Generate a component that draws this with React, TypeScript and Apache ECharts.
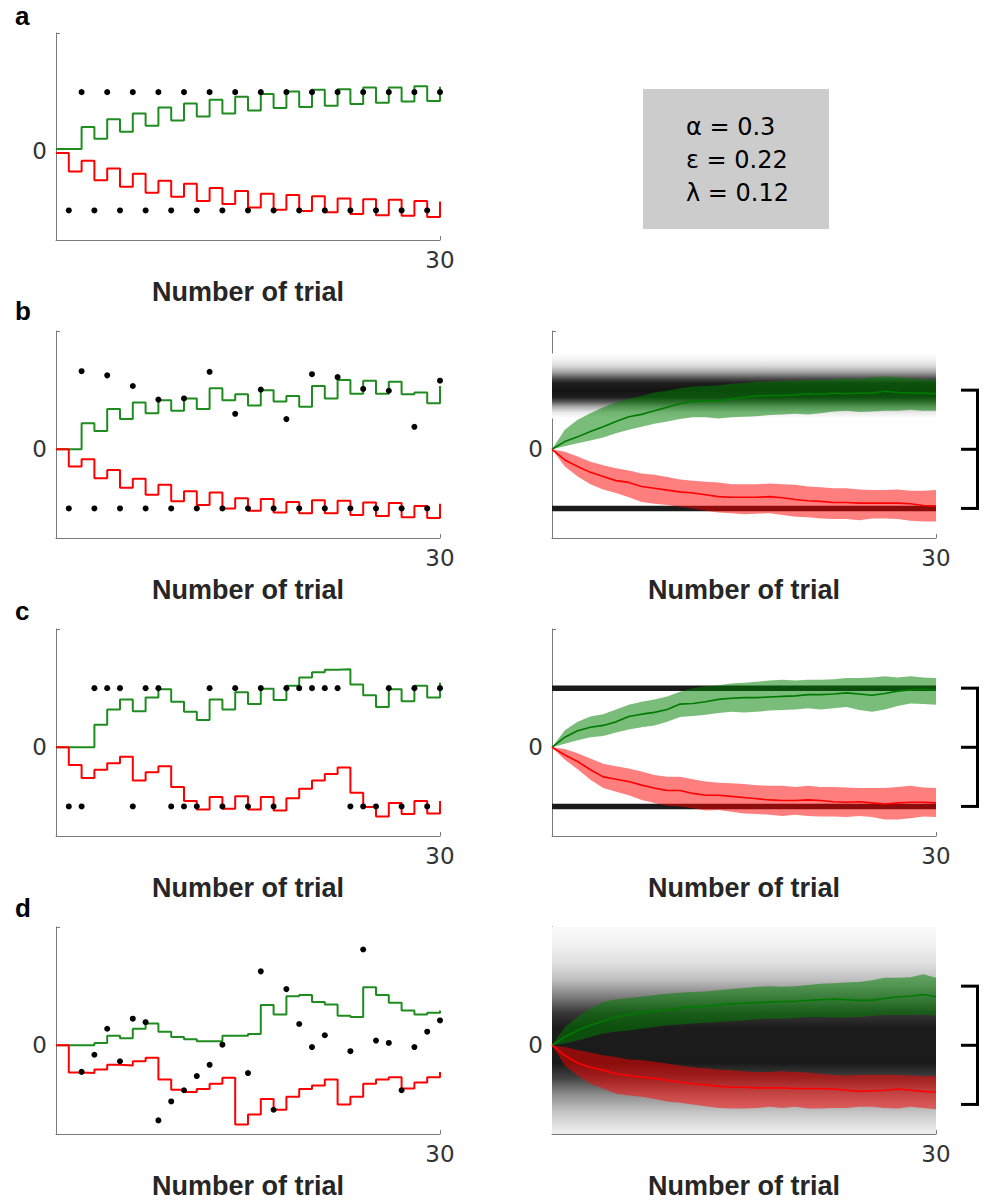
import React, { useEffect, useRef } from 'react';
import * as echarts from 'echarts';

// ---------- data ----------
const TRIALS = [0, 1, 2, 3, 4, 5, 6, 7, 8, 9, 10, 11, 12, 13, 14, 15, 16, 17, 18, 19, 20, 21, 22, 23, 24, 25, 26, 27, 28, 29, 30];
const DOT_TRIALS = [1, 2, 3, 4, 5, 6, 7, 8, 9, 10, 11, 12, 13, 14, 15, 16, 17, 18, 19, 20, 21, 22, 23, 24, 25, 26, 27, 28, 29, 30];

// panel a (left)
const A_GREEN = [0.04, 0.04, 0.41, 0.21, 0.54, 0.33, 0.64, 0.43, 0.74, 0.52, 0.81, 0.59, 0.87, 0.64, 0.92, 0.69, 0.97, 0.73, 1.01, 0.75, 1.04, 0.77, 1.05, 0.80, 1.08, 0.82, 1.08, 0.84, 1.10, 0.85, 1.09];
const A_RED = [-0.03, -0.34, -0.16, -0.49, -0.29, -0.60, -0.38, -0.70, -0.50, -0.77, -0.55, -0.84, -0.62, -0.89, -0.67, -0.95, -0.72, -0.99, -0.74, -1.01, -0.76, -1.03, -0.80, -1.06, -0.81, -1.08, -0.82, -1.09, -0.84, -1.11, -0.85];
const A_DOTS = [-1, 1, -1, 1, -1, 1, -1, 1, -1, 1, -1, 1, -1, 1, -1, 1, -1, 1, -1, 1, -1, 1, -1, 1, -1, 1, -1, 1, -1, 1];

// panel b (left)
const B_GREEN = [0, 0, 0.44, 0.31, 0.68, 0.51, 0.79, 0.61, 0.83, 0.65, 0.86, 0.68, 1.03, 0.83, 0.93, 0.74, 1.00, 0.81, 0.90, 0.72, 1.07, 0.86, 1.17, 0.94, 1.16, 0.94, 1.14, 0.93, 0.96, 0.78, 1.07];
const B_RED = [0, -0.29, -0.17, -0.49, -0.35, -0.65, -0.50, -0.77, -0.60, -0.88, -0.71, -0.94, -0.73, -1.00, -0.83, -1.04, -0.84, -1.07, -0.89, -1.08, -0.86, -1.08, -0.87, -1.11, -0.90, -1.13, -0.91, -1.15, -0.96, -1.16, -0.92];
const B_DOTS = [-1, 1.32, -1, 1.25, -1, 1.07, -1, 0.84, -1, 0.86, -1, 1.31, -1, 0.60, -1, 1.01, -1, 0.51, -1, 1.27, -1, 1.22, -1, 1.02, -1, 0.99, -1, 0.38, -1, 1.16];

// panel c (left)
const C_GREEN = [0, 0, 0, 0.38, 0.64, 0.81, 0.61, 0.84, 0.98, 0.77, 0.60, 0.46, 0.81, 0.64, 0.93, 0.73, 0.99, 0.80, 1.04, 1.18, 1.27, 1.31, 1.32, 1.06, 0.88, 0.68, 0.98, 0.78, 1.04, 0.84, 1.09];
const C_RED = [0, -0.30, -0.52, -0.38, -0.27, -0.16, -0.56, -0.42, -0.32, -0.67, -0.91, -1.05, -0.84, -1.04, -0.83, -1.05, -0.84, -1.07, -0.86, -0.70, -0.56, -0.45, -0.34, -0.77, -1.01, -1.17, -0.94, -1.13, -0.91, -1.12, -0.91];
const C_DOTS = [-1, -1, 1, 1, 1, -1, 1, 1, -1, -1, -1, 1, -1, 1, -1, 1, -1, 1, 1, 1, 1, 1, -1, -1, -1, 1, -1, 1, -1, 1];

// panel d (left)
const D_GREEN = [0, 0, 0, 0.04, 0.16, 0.12, 0.28, 0.37, 0.23, 0.14, 0.10, 0.07, 0.07, 0.16, 0.16, 0.19, 0.68, 0.52, 0.83, 0.85, 0.73, 0.69, 0.50, 0.48, 0.98, 0.85, 0.72, 0.59, 0.52, 0.55, 0.59];
const D_RED = [0, -0.46, -0.47, -0.41, -0.33, -0.34, -0.27, -0.21, -0.58, -0.75, -0.79, -0.74, -0.65, -0.55, -1.34, -1.17, -0.91, -1.09, -0.87, -0.74, -0.68, -0.58, -1.00, -0.87, -0.65, -0.58, -0.54, -0.73, -0.63, -0.54, -0.45];
const D_DOTS = [null, -0.45, -0.16, 0.28, -0.27, 0.45, 0.39, -1.27, -0.95, -0.76, -0.52, -0.33, 0.01, null, -0.47, 1.25, -1.09, 0.95, 0.36, -0.03, 0.17, null, -0.10, 1.62, 0.08, 0.04, -0.76, -0.03, 0.23, 0.42];

// right panels: mean and band (upper / lower)
const B_GMEAN = [0, 0.13, 0.21, 0.30, 0.38, 0.47, 0.55, 0.59, 0.65, 0.71, 0.77, 0.81, 0.82, 0.82, 0.85, 0.88, 0.90, 0.91, 0.91, 0.92, 0.94, 0.93, 0.95, 0.94, 0.95, 0.95, 0.98, 0.96, 0.95, 0.95, 0.94];
const B_GUP = [0, 0.33, 0.50, 0.61, 0.71, 0.79, 0.85, 0.90, 0.96, 0.99, 1.03, 1.06, 1.07, 1.08, 1.11, 1.12, 1.14, 1.14, 1.16, 1.16, 1.17, 1.17, 1.18, 1.20, 1.18, 1.22, 1.23, 1.22, 1.20, 1.18, 1.17];
const B_GLO = [0, 0.05, 0.10, 0.15, 0.20, 0.27, 0.33, 0.38, 0.43, 0.47, 0.51, 0.54, 0.54, 0.52, 0.54, 0.55, 0.56, 0.58, 0.59, 0.60, 0.59, 0.61, 0.64, 0.65, 0.63, 0.64, 0.65, 0.65, 0.67, 0.65, 0.65];
const B_RMEAN = [0, -0.18, -0.29, -0.39, -0.46, -0.53, -0.56, -0.63, -0.66, -0.69, -0.72, -0.74, -0.77, -0.80, -0.81, -0.81, -0.81, -0.80, -0.82, -0.85, -0.87, -0.88, -0.90, -0.90, -0.91, -0.91, -0.91, -0.91, -0.92, -0.95, -0.96];
const B_RUP = [0, -0.04, -0.12, -0.21, -0.27, -0.32, -0.36, -0.41, -0.43, -0.47, -0.51, -0.53, -0.55, -0.56, -0.59, -0.59, -0.59, -0.58, -0.59, -0.60, -0.63, -0.64, -0.66, -0.66, -0.68, -0.69, -0.69, -0.68, -0.70, -0.70, -0.69];
const B_RLO = [0, -0.29, -0.46, -0.59, -0.68, -0.74, -0.81, -0.89, -0.92, -0.94, -0.97, -1.00, -1.04, -1.07, -1.08, -1.10, -1.09, -1.08, -1.11, -1.14, -1.15, -1.17, -1.18, -1.18, -1.20, -1.17, -1.17, -1.18, -1.21, -1.22, -1.22];

const C_GMEAN = [0, 0.17, 0.28, 0.34, 0.37, 0.43, 0.52, 0.56, 0.59, 0.64, 0.73, 0.74, 0.77, 0.81, 0.83, 0.84, 0.84, 0.85, 0.86, 0.87, 0.89, 0.89, 0.90, 0.92, 0.90, 0.88, 0.91, 0.95, 0.97, 0.98, 0.97];
const C_GUP = [0, 0.29, 0.43, 0.52, 0.56, 0.64, 0.72, 0.77, 0.81, 0.86, 0.94, 1.00, 1.03, 1.05, 1.08, 1.09, 1.11, 1.13, 1.14, 1.13, 1.14, 1.14, 1.15, 1.17, 1.17, 1.18, 1.20, 1.18, 1.20, 1.18, 1.17];
const C_GLO = [0, 0.06, 0.12, 0.17, 0.19, 0.25, 0.30, 0.34, 0.37, 0.43, 0.51, 0.53, 0.55, 0.58, 0.60, 0.59, 0.60, 0.62, 0.63, 0.64, 0.66, 0.64, 0.66, 0.68, 0.63, 0.60, 0.64, 0.70, 0.74, 0.73, 0.72];
const C_RMEAN = [0, -0.13, -0.24, -0.38, -0.50, -0.54, -0.58, -0.64, -0.69, -0.73, -0.73, -0.78, -0.81, -0.81, -0.83, -0.85, -0.87, -0.89, -0.90, -0.90, -0.89, -0.90, -0.92, -0.93, -0.92, -0.94, -0.96, -0.94, -0.93, -0.93, -0.94];
const C_RUP = [0, -0.03, -0.10, -0.19, -0.28, -0.32, -0.36, -0.41, -0.47, -0.50, -0.50, -0.54, -0.58, -0.60, -0.61, -0.62, -0.64, -0.65, -0.65, -0.67, -0.65, -0.67, -0.67, -0.68, -0.69, -0.69, -0.69, -0.67, -0.65, -0.68, -0.69];
const C_RLO = [0, -0.21, -0.37, -0.55, -0.69, -0.75, -0.81, -0.89, -0.94, -0.99, -1.00, -1.03, -1.07, -1.06, -1.09, -1.12, -1.13, -1.14, -1.16, -1.14, -1.16, -1.17, -1.17, -1.18, -1.16, -1.18, -1.22, -1.22, -1.20, -1.17, -1.18];

const D_GMEAN = [0, 0.14, 0.25, 0.34, 0.41, 0.48, 0.52, 0.55, 0.58, 0.60, 0.63, 0.65, 0.66, 0.68, 0.70, 0.71, 0.72, 0.73, 0.74, 0.74, 0.76, 0.77, 0.78, 0.77, 0.76, 0.76, 0.79, 0.82, 0.83, 0.86, 0.82];
const D_GUP = [0, 0.31, 0.48, 0.62, 0.73, 0.78, 0.80, 0.82, 0.85, 0.87, 0.89, 0.90, 0.91, 0.93, 0.95, 0.97, 0.99, 1.00, 0.99, 1.00, 1.02, 1.04, 1.05, 1.06, 1.07, 1.10, 1.14, 1.14, 1.15, 1.20, 1.14];
const D_GLO = [0, 0.03, 0.08, 0.14, 0.20, 0.23, 0.25, 0.28, 0.31, 0.34, 0.35, 0.37, 0.38, 0.39, 0.41, 0.42, 0.44, 0.45, 0.45, 0.46, 0.48, 0.48, 0.47, 0.47, 0.48, 0.50, 0.51, 0.51, 0.51, 0.52, 0.50];
const D_RMEAN = [0, -0.17, -0.30, -0.37, -0.42, -0.48, -0.51, -0.54, -0.56, -0.59, -0.62, -0.65, -0.67, -0.69, -0.71, -0.71, -0.72, -0.72, -0.72, -0.73, -0.73, -0.73, -0.74, -0.76, -0.78, -0.77, -0.76, -0.74, -0.76, -0.78, -0.79];
const D_RUP = [0, -0.03, -0.08, -0.12, -0.17, -0.20, -0.24, -0.25, -0.28, -0.31, -0.34, -0.37, -0.39, -0.41, -0.42, -0.44, -0.45, -0.45, -0.44, -0.45, -0.46, -0.48, -0.50, -0.51, -0.50, -0.50, -0.50, -0.50, -0.51, -0.52, -0.52];
const D_RLO = [0, -0.34, -0.51, -0.65, -0.73, -0.82, -0.85, -0.87, -0.91, -0.95, -0.97, -1.00, -1.03, -1.06, -1.07, -1.07, -1.06, -1.04, -1.06, -1.04, -1.07, -1.07, -1.06, -1.06, -1.04, -1.04, -1.06, -1.07, -1.04, -1.06, -1.08];

// reward levels (black lines), bracket levels, shading of reward distributions [value, grey]
const REWARD_X = [0, 30];
const B_REWARD_LINES = [-1];
const C_REWARD_LINES = [1, -1];
const BRACKET_LEVELS = [1, 0, -1];
const B_SHADE = [[1.62, 255], [1.5, 240], [1.4, 215], [1.3, 160], [1.2, 80], [1.12, 30], [1.0, 20], [0.88, 30], [0.8, 90], [0.72, 170], [0.62, 235], [0.52, 255]];
const D_SHADE = [[2.0, 250], [1.7, 240], [1.4, 225], [1.1, 190], [0.8, 120], [0.55, 55], [0.3, 28], [-0.3, 26], [-0.55, 65], [-0.85, 145], [-1.15, 200], [-1.45, 235], [-1.5, 238]];

const PARAM_TEXT = ['α = 0.3', 'ε = 0.22', 'λ = 0.12'];
const PANEL_LABELS = ['a', 'b', 'c', 'd'];

// ---------- styles ----------
const AXIS_GREY = '#7a7a7a';
const STEP_GREEN = '#1f8c1f';
const STEP_RED = '#ff0000';
const MEAN_GREEN = '#007a00';
const MEAN_RED = '#ff0000';
const BAND_GREEN = 'rgba(0,128,0,0.52)';
const BAND_RED = 'rgba(255,0,0,0.5)';
const NUM_FONT = 'DejaVu Sans';

const LEFT_X = 56;
const RIGHT_X = 552;
const PW = 384;
const PH = 207;
const ROW_TOP = [33, 331, 629, 927];

export default function App() {
  const ref = useRef<HTMLDivElement>(null);

  useEffect(() => {
    if (!ref.current) return;
    const chart = echarts.init(ref.current, null, { renderer: 'svg' });

    // grids: 0 a-left, 1 b-left, 2 b-right, 3 c-left, 4 c-right, 5 d-left, 6 d-right
    const gridDefs = [
      { left: LEFT_X, top: ROW_TOP[0] },
      { left: LEFT_X, top: ROW_TOP[1] },
      { left: RIGHT_X, top: ROW_TOP[1] },
      { left: LEFT_X, top: ROW_TOP[2] },
      { left: RIGHT_X, top: ROW_TOP[2] },
      { left: LEFT_X, top: ROW_TOP[3] },
      { left: RIGHT_X, top: ROW_TOP[3] },
    ];
    const grid = gridDefs.map((g) => ({ left: g.left, top: g.top, width: PW, height: PH, outerBoundsMode: 'none', containLabel: false }));

    const xAxis = gridDefs.map((_, i) => ({
      type: 'value', gridIndex: i, min: 0, max: 30,
      axisLine: { show: true, onZero: false, lineStyle: { color: AXIS_GREY, width: 1 } },
      axisTick: { show: true, inside: true, length: 4, customValues: [30], lineStyle: { color: AXIS_GREY } },
      axisLabel: { show: true, customValues: [30], fontSize: 23, color: '#333333', fontFamily: NUM_FONT, margin: 8 },
      splitLine: { show: false },
      name: 'Number of trial', nameLocation: 'middle', nameGap: 38,
      nameTextStyle: { fontSize: 27, fontWeight: 'bold', color: '#262626', fontFamily: 'Liberation Sans' },
    }));
    const yAxis = gridDefs.map((_, i) => ({
      type: 'value', gridIndex: i, min: -1.5, max: 2,
      axisLine: { show: true, onZero: false, lineStyle: { color: AXIS_GREY, width: 1 } },
      axisTick: { show: true, inside: true, length: 4, customValues: [2], lineStyle: { color: AXIS_GREY } },
      axisLabel: { show: true, customValues: [0], fontSize: 23, color: '#333333', fontFamily: NUM_FONT, margin: 9 },
      splitLine: { show: false },
    }));

    const series: any[] = [];
    const stepPts = (arr: number[]) => TRIALS.map((t, i) => [t, arr[i]]);
    const dotPts = (arr: (number | null)[]) => DOT_TRIALS.map((t, i) => [t, arr[i]]).filter((p) => p[1] !== null);

    const leftPanel = (gi: number, green: number[], red: number[], dots: (number | null)[]) => {
      series.push({ type: 'line', xAxisIndex: gi, yAxisIndex: gi, data: stepPts(green), step: 'end', showSymbol: false, symbol: 'none', lineStyle: { color: STEP_GREEN, width: 2 }, z: 3, silent: true });
      series.push({ type: 'line', xAxisIndex: gi, yAxisIndex: gi, data: stepPts(red), step: 'end', showSymbol: false, symbol: 'none', lineStyle: { color: STEP_RED, width: 2 }, z: 3, silent: true });
      series.push({ type: 'scatter', xAxisIndex: gi, yAxisIndex: gi, data: dotPts(dots), symbol: 'circle', symbolSize: 6, itemStyle: { color: '#000000', opacity: 1 }, z: 4, silent: true });
    };

    const shadeSeries = (gi: number, shade: number[][]) => {
      const top = shade[0][0];
      const bottom = shade[shade.length - 1][0];
      const stops = shade.map(([v, g]) => ({ offset: (top - v) / (top - bottom), color: `rgb(${g},${g},${g})` }));
      series.push({
        type: 'custom', xAxisIndex: gi, yAxisIndex: gi, data: [[0, 0]], z: 1, silent: true, clip: true,
        renderItem: (_p: any, api: any) => {
          const p1 = api.coord([TRIALS[0], top]);
          const p2 = api.coord([TRIALS[TRIALS.length - 1], bottom]);
          return {
            type: 'rect',
            shape: { x: p1[0], y: p1[1], width: p2[0] - p1[0], height: p2[1] - p1[1] },
            style: { fill: new echarts.graphic.LinearGradient(0, 0, 0, 1, stops) },
          };
        },
      });
    };

    const rewardLines = (gi: number, levels: number[]) => {
      levels.forEach((lv) => {
        series.push({ type: 'line', xAxisIndex: gi, yAxisIndex: gi, data: REWARD_X.map((x) => [x, lv]), showSymbol: false, symbol: 'none', lineStyle: { color: '#1a1a1a', width: 5.5 }, z: 1, silent: true });
      });
    };

    const band = (gi: number, up: number[], lo: number[], color: string) => {
      series.push({
        type: 'custom', xAxisIndex: gi, yAxisIndex: gi, data: [[0, 0]], z: 2, silent: true,
        renderItem: (_p: any, api: any) => {
          const pts: number[][] = [];
          for (let i = 0; i < TRIALS.length; i++) pts.push(api.coord([TRIALS[i], up[i]]));
          for (let i = TRIALS.length - 1; i >= 0; i--) pts.push(api.coord([TRIALS[i], lo[i]]));
          return { type: 'polygon', shape: { points: pts }, style: { fill: color } };
        },
      });
    };

    const meanLine = (gi: number, arr: number[], color: string) => {
      series.push({ type: 'line', xAxisIndex: gi, yAxisIndex: gi, data: stepPts(arr), showSymbol: false, symbol: 'none', lineStyle: { color, width: 1.6 }, z: 3, silent: true });
    };

    const bracket = (gi: number) => {
      series.push({
        type: 'custom', xAxisIndex: gi, yAxisIndex: gi, data: [[30, 0]], z: 5, silent: true, clip: false,
        renderItem: (_p: any, api: any) => {
          const pts = BRACKET_LEVELS.map((lv) => api.coord([TRIALS[TRIALS.length - 1], lv]));
          const x0 = pts[0][0];
          const st = { stroke: '#000000', lineWidth: 3 };
          const children: any[] = [
            { type: 'line', shape: { x1: x0 + 41.5, y1: pts[0][1], x2: x0 + 41.5, y2: pts[pts.length - 1][1] }, style: st },
          ];
          pts.forEach((p) => children.push({ type: 'line', shape: { x1: x0 + 25, y1: p[1], x2: x0 + 43, y2: p[1] }, style: st }));
          return { type: 'group', children };
        },
      });
    };

    const rightPanel = (gi: number, gm: number[], gu: number[], gl: number[], rm: number[], ru: number[], rl: number[]) => {
      band(gi, gu, gl, BAND_GREEN);
      band(gi, ru, rl, BAND_RED);
      meanLine(gi, gm, MEAN_GREEN);
      meanLine(gi, rm, MEAN_RED);
      bracket(gi);
    };

    leftPanel(0, A_GREEN, A_RED, A_DOTS);
    leftPanel(1, B_GREEN, B_RED, B_DOTS);
    shadeSeries(2, B_SHADE);
    rewardLines(2, B_REWARD_LINES);
    rightPanel(2, B_GMEAN, B_GUP, B_GLO, B_RMEAN, B_RUP, B_RLO);
    leftPanel(3, C_GREEN, C_RED, C_DOTS);
    rewardLines(4, C_REWARD_LINES);
    rightPanel(4, C_GMEAN, C_GUP, C_GLO, C_RMEAN, C_RUP, C_RLO);
    leftPanel(5, D_GREEN, D_RED, D_DOTS);
    shadeSeries(6, D_SHADE);
    rightPanel(6, D_GMEAN, D_GUP, D_GLO, D_RMEAN, D_RUP, D_RLO);

    const labelY = [16, 311, 611, 908];
    const graphic: any[] = PANEL_LABELS.map((t, i) => ({
      type: 'text', x: 15, y: labelY[i], z: 10,
      style: { text: t, fill: '#000000', font: 'bold 26px "Liberation Sans", Arial, sans-serif', textAlign: 'left', textVerticalAlign: 'middle', align: 'left', verticalAlign: 'middle' },
    }));
    graphic.push({ type: 'rect', shape: { x: 643, y: 89, width: 186, height: 140 }, style: { fill: '#cccccc' }, z: 1 });
    const paramY = [127, 160, 193];
    PARAM_TEXT.forEach((t, i) => {
      graphic.push({
        type: 'text', x: 686, y: paramY[i], z: 10,
        style: { text: t, fill: '#000000', font: `24px "${NUM_FONT}", sans-serif`, textAlign: 'left', textVerticalAlign: 'middle', align: 'left', verticalAlign: 'middle' },
      });
    });

    chart.setOption({
      animation: false,
      backgroundColor: '#ffffff',
      grid, xAxis, yAxis, series, graphic,
    });

    return () => chart.dispose();
  }, []);

  return <div ref={ref} style={{ position: 'absolute', left: 0, top: 0, width: 1005, height: 1200 }} />;
}
